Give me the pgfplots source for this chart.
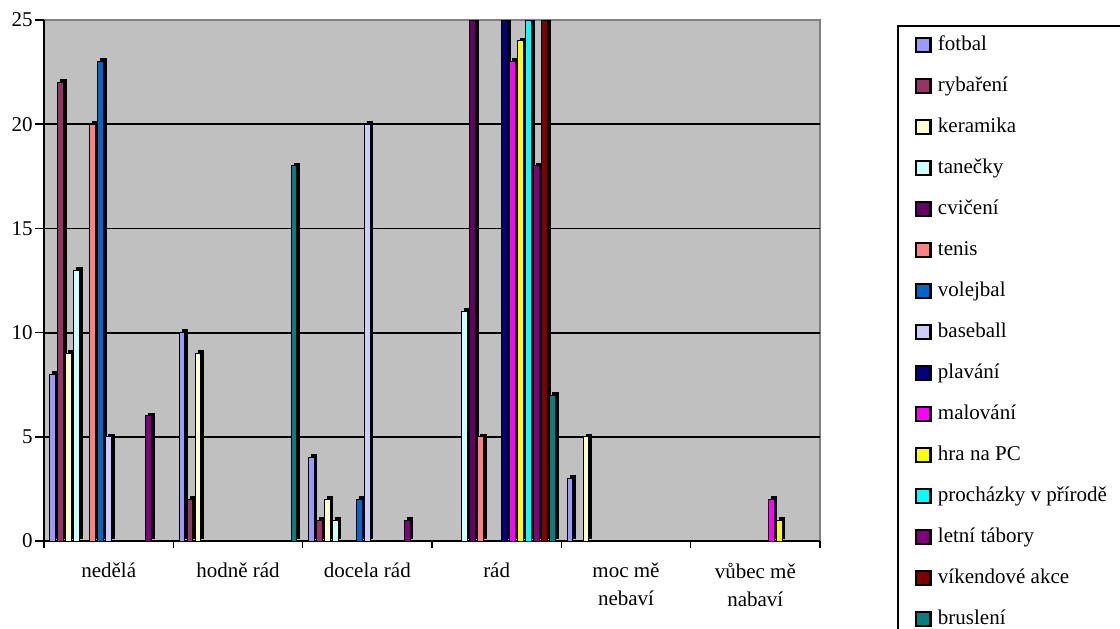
\documentclass[border=0pt]{standalone}
\usepackage{fontspec}
\setmainfont{Liberation Serif}
\usepackage{pgfplots}
\pgfplotsset{compat=1.18}
\definecolor{bg}{HTML}{C0C0C0}
\definecolor{c1}{HTML}{9999FF}
\definecolor{c2}{HTML}{993366}
\definecolor{c3}{HTML}{FFFFCC}
\definecolor{c4}{HTML}{CCFFFF}
\definecolor{c5}{HTML}{660066}
\definecolor{c6}{HTML}{FF8080}
\definecolor{c7}{HTML}{0066CC}
\definecolor{c8}{HTML}{CCCCFF}
\definecolor{c9}{HTML}{000080}
\definecolor{c10}{HTML}{FF00FF}
\definecolor{c11}{HTML}{FFFF00}
\definecolor{c12}{HTML}{00FFFF}
\definecolor{c13}{HTML}{800080}
\definecolor{c14}{HTML}{800000}
\definecolor{c15}{HTML}{008080}
\pgfplotsset{
  bar3d/.style={forget plot, draw=black, line width=0.5pt, fill=#1,
     preaction={fill=black, draw=black, transform canvas={xshift=1.4pt, yshift=1.4pt}}},
  sq/.style={legend image code/.code={\draw[fill=#1,draw=black,line width=1.1pt] (0pt,-3.6pt) rectangle (7.2pt,3.6pt);}},
}
\begin{document}
\begin{tikzpicture}
\begin{axis}[
  scale only axis,
  width=388pt, height=260.5pt,
  xmin=-0.5, xmax=5.5, ymin=0, ymax=25,
  ybar=1.3pt, bar width=2.7pt,
  axis background/.style={fill=bg, draw=gray, line width=1pt},
  axis x line*=bottom, axis y line*=left,
  axis line style={black, line width=1pt},
  tick align=outside,
  ytick={0,5,...,25},
  major tick length=4.5pt,
  extra y ticks={5,10,15,20},
  extra y tick labels={},
  extra y tick style={grid=major, major tick length=0pt},
  grid style={black, line width=0.9pt},
  xtick={0,...,5},
  xticklabels={nedělá, hodně rád, docela rád, rád, moc mě\\nebaví, vůbec mě\\nabaví},
  x tick style={draw=none},
  minor xtick={-0.5,0.5,...,5.5},
  minor x tick style={draw=black, line width=0.8pt},
  minor tick length=3.5pt,
  y tick style={black, line width=0.8pt},
  /pgf/number format/assume math mode=true,
  ticklabel style={font=\fontsize{10.5}{14}\selectfont},
  xticklabel style={align=center, yshift=-3pt},
  yticklabel style={inner xsep=1pt},
  legend cell align=left,
  legend style={at={(rel axis cs:1.0992,0.9904)}, anchor=north west,
    draw=black, line width=1pt, inner xsep=8.5pt, inner ysep=2.5pt,
    row sep=6.5pt,
    font=\fontsize{10.5}{12}\selectfont,
    nodes={text height=7.5pt, text depth=2.5pt, inner ysep=2pt, inner xsep=3.2pt}},
]
\addplot[bar3d=c1, bar shift=-28pt] coordinates {(0,8) (1,10) (2,4) (4,3)};
\addplot[bar3d=c2, bar shift=-24pt] coordinates {(0,22) (1,2) (2,1)};
\addplot[bar3d=c3, bar shift=-20pt] coordinates {(0,9) (1,9) (2,2) (4,5)};
\addplot[bar3d=c4, bar shift=-16pt] coordinates {(0,13) (2,1) (3,11)};
\addplot[bar3d=c5, bar shift=-12pt] coordinates {(3,25)};
\addplot[bar3d=c6, bar shift=-8pt] coordinates {(0,20) (3,5)};
\addplot[bar3d=c7, bar shift=-4pt] coordinates {(0,23) (2,2)};
\addplot[bar3d=c8, bar shift=0pt] coordinates {(0,5) (2,20)};
\addplot[bar3d=c9, bar shift=4pt] coordinates {(3,25)};
\addplot[bar3d=c10, bar shift=8pt] coordinates {(3,23) (5,2)};
\addplot[bar3d=c11, bar shift=12pt] coordinates {(3,24) (5,1)};
\addplot[bar3d=c12, bar shift=16pt] coordinates {(3,25)};
\addplot[bar3d=c13, bar shift=20pt] coordinates {(0,6) (2,1) (3,18)};
\addplot[bar3d=c14, bar shift=24pt] coordinates {(3,25)};
\addplot[bar3d=c15, bar shift=28pt] coordinates {(1,18) (3,7)};
\addlegendimage{sq=c1}\addlegendentry{fotbal}
\addlegendimage{sq=c2}\addlegendentry{rybaření}
\addlegendimage{sq=c3}\addlegendentry{keramika}
\addlegendimage{sq=c4}\addlegendentry{tanečky}
\addlegendimage{sq=c5}\addlegendentry{cvičení}
\addlegendimage{sq=c6}\addlegendentry{tenis}
\addlegendimage{sq=c7}\addlegendentry{volejbal}
\addlegendimage{sq=c8}\addlegendentry{baseball}
\addlegendimage{sq=c9}\addlegendentry{plavání}
\addlegendimage{sq=c10}\addlegendentry{malování}
\addlegendimage{sq=c11}\addlegendentry{hra na PC}
\addlegendimage{sq=c12}\addlegendentry{procházky v přírodě\hspace*{25pt}}
\addlegendimage{sq=c13}\addlegendentry{letní tábory}
\addlegendimage{sq=c14}\addlegendentry{víkendové akce}
\addlegendimage{sq=c15}\addlegendentry{bruslení}
\end{axis}
\pgfresetboundingbox
\path ([shift={(-22pt,-43.5pt)}]current axis.south west) rectangle ([shift={(538pt,270.5pt)}]current axis.south west);
\end{tikzpicture}
\end{document}
